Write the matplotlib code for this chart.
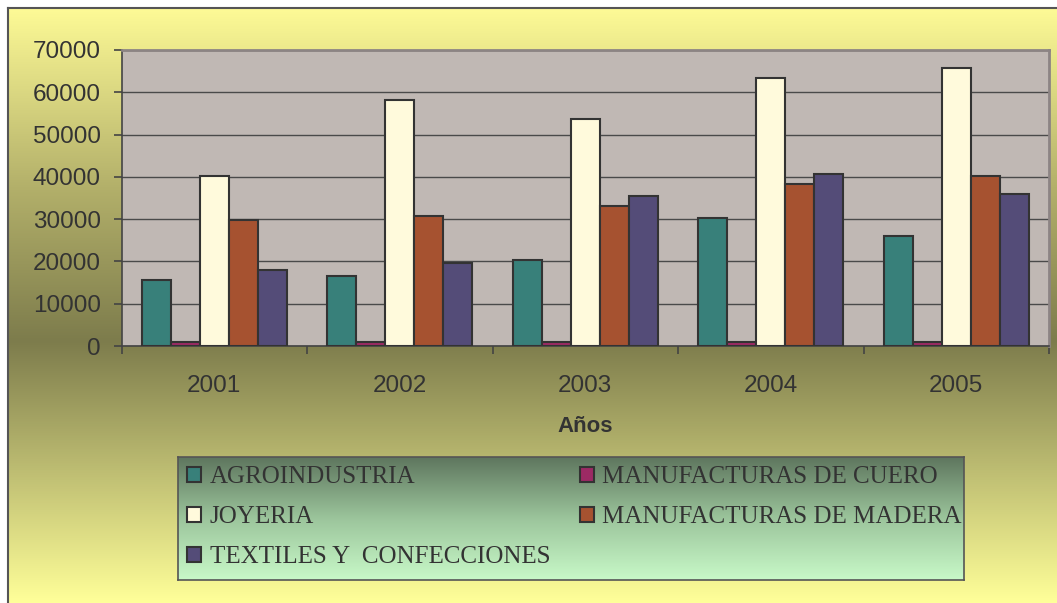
import matplotlib.pyplot as plt
import numpy as np
from matplotlib.colors import LinearSegmentedColormap
from matplotlib.patches import Patch

years = ['2001', '2002', '2003', '2004', '2005']
agroindustria = [15600, 16500, 20300, 30300, 26000]
cuero = [1000, 1000, 1000, 1000, 1000]
joyeria = [40200, 58200, 53800, 63300, 65700]
madera = [29700, 30700, 33100, 38200, 40100]
textiles = [18000, 19600, 35500, 40600, 35900]

series = [agroindustria, cuero, joyeria, madera, textiles]
names = ['AGROINDUSTRIA', 'MANUFACTURAS DE CUERO', 'JOYERIA',
         'MANUFACTURAS DE MADERA', 'TEXTILES Y  CONFECCIONES']
colors = ['#38807a', '#9c2a64', '#fffadc', '#a65230', '#544c78']

W, H = 1057, 603
fig = plt.figure(figsize=(W / 100, H / 100), dpi=100)
fig.patch.set_facecolor('white')

# gradient background of the chart area
bg = fig.add_axes([8 / W, 0, 1 - 8 / W, (H - 8) / H])
bg_cmap = LinearSegmentedColormap.from_list(
    'bg', [(0, '#fdfa96'), (0.3, '#b3b06a'), (0.56, '#7d7c4c'), (1, '#ffff99')])
bg.imshow(np.linspace(0, 1, 256).reshape(-1, 1), aspect='auto', cmap=bg_cmap,
          extent=[0, 1, 0, 1])
bg.set_xticks([])
bg.set_yticks([])
for s in ['right', 'bottom']:
    bg.spines[s].set_visible(False)
for s in ['left', 'top']:
    bg.spines[s].set_color('#555555')
    bg.spines[s].set_linewidth(1.5)

# main plot
ax = fig.add_axes([121.5 / W, 1 - 346 / H, (1049 - 121.5) / W, 296 / H])
ax.set_facecolor('#c0b8b4')
x = np.arange(len(years))
w = 29 / 185.5
for i, (vals, c) in enumerate(zip(series, colors)):
    ax.bar(x + (i - 2) * w, vals, width=w, color=c, edgecolor='#333333',
           linewidth=1.5, zorder=3)

ax.set_xlim(-0.5, 4.5)
ax.set_ylim(0, 70000)
ax.set_yticks(range(0, 70001, 10000))
ax.grid(axis='y', color='#4a4a4a', linewidth=1.0, zorder=1)
ax.set_axisbelow(True)

ax.set_xticks(x)
ax.set_xticklabels(years)
ax.set_xticks(np.arange(-0.5, 5, 1), minor=True)
ax.tick_params(axis='x', which='major', length=0, pad=21)
ax.tick_params(axis='x', which='minor', length=6, color='#444444', width=1.2)
ax.tick_params(axis='y', length=6, color='#444444', width=1.2, pad=9)
for lab in ax.get_xticklabels() + ax.get_yticklabels():
    lab.set_fontfamily('Liberation Sans')
    lab.set_fontsize(17.5)
    lab.set_color('#333333')

for s in ['left', 'bottom']:
    ax.spines[s].set_color('#444444')
    ax.spines[s].set_linewidth(1.2)
for s in ['top', 'right']:
    ax.spines[s].set_color('#8c8484')
    ax.spines[s].set_linewidth(2)

fig.text(585 / W, 1 - 426 / H, 'Años', ha='center', va='center',
         fontsize=16, fontweight='bold', color='#333333',
         family='Liberation Sans')

# legend box with its own gradient
lax = fig.add_axes([178 / W, 1 - 580 / H, (964 - 178) / W, 123 / H])
leg_cmap = LinearSegmentedColormap.from_list('leg', ['#5e765e', '#9cc59c', '#c8f9c8'])
lax.imshow(np.linspace(0, 1, 256).reshape(-1, 1), aspect='auto', cmap=leg_cmap,
           extent=[0, 1, 0, 1])
lax.set_xticks([])
lax.set_yticks([])
for s in lax.spines.values():
    s.set_color('#555555')
    s.set_linewidth(1.2)

handles = [Patch(facecolor=c, edgecolor='#333333', linewidth=1.5) for c in colors]
legend_font = {'family': 'Liberation Serif', 'size': 18}
col1 = [0, 2, 4]
col2 = [1, 3]
for idx, x0 in [(col1, 187), (col2, 580)]:
    leg = fig.legend([handles[i] for i in idx], [names[i] for i in idx],
                     loc='upper left', bbox_to_anchor=(x0 / W, 1 - 466 / H),
                     frameon=False, prop=legend_font, handlelength=0.55,
                     handleheight=0.55, handletextpad=0.35, labelspacing=0.72,
                     borderpad=0, borderaxespad=0, labelcolor='#333333')

fig.savefig('out.png', dpi=100)
